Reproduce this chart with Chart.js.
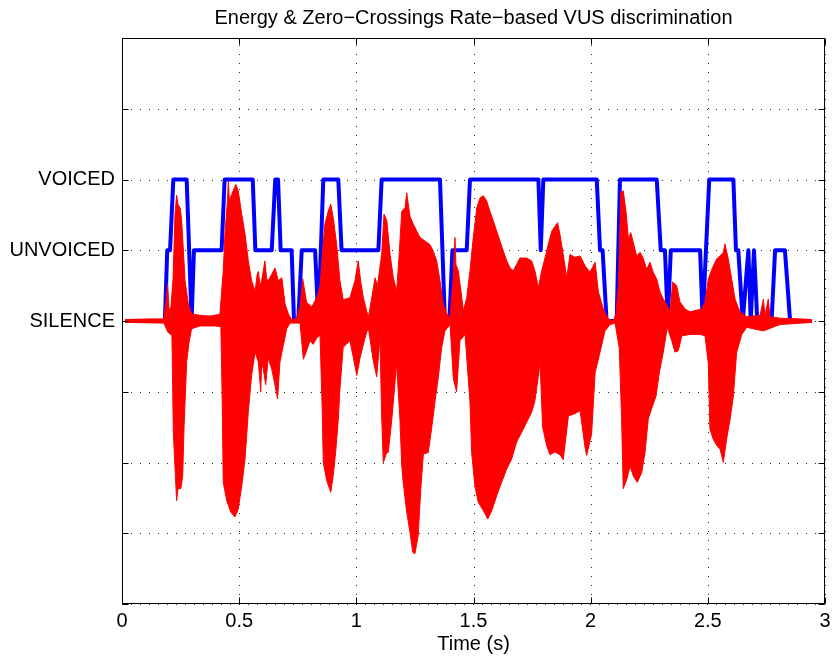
<!DOCTYPE html>
<html><head><meta charset="utf-8">
<style>html,body{margin:0;padding:0;background:#fff}#wrap{width:832px;height:656px}</style>
<script src="https://cdn.jsdelivr.net/npm/chart.js@4.4.0/dist/chart.umd.min.js"></script>
</head><body><div id="wrap"><canvas id="c" width="832" height="656"></canvas></div>
<script>
// Speech waveform envelope (upper): time (s) / amplitude
const upperT = [0.013,0.119,0.179,0.188,0.195,0.201,0.209,0.218,0.226,0.233,0.239,0.248,0.254,0.262,0.269,0.283,0.297,0.333,0.376,0.410,0.418,0.432,0.440,0.449,0.454,0.458,0.468,0.486,0.496,0.511,0.525,0.539,0.553,0.568,0.577,0.582,0.589,0.596,0.610,0.617,0.624,0.639,0.653,0.667,0.682,0.696,0.710,0.724,0.743,0.760,0.771,0.788,0.810,0.831,0.845,0.854,0.866,0.880,0.891,0.902,0.916,0.930,0.944,0.973,0.994,1.008,1.019,1.030,1.051,1.066,1.080,1.090,1.108,1.118,1.130,1.144,1.158,1.172,1.182,1.194,1.208,1.215,1.229,1.243,1.258,1.272,1.293,1.314,1.328,1.343,1.357,1.371,1.386,1.400,1.413,1.421,1.425,1.435,1.450,1.457,1.471,1.485,1.499,1.514,1.528,1.542,1.556,1.570,1.585,1.599,1.613,1.627,1.642,1.656,1.670,1.684,1.698,1.727,1.748,1.762,1.777,1.791,1.805,1.819,1.834,1.848,1.859,1.869,1.883,1.898,1.912,1.933,1.955,1.976,1.997,2.019,2.033,2.054,2.075,2.097,2.108,2.118,2.129,2.139,2.151,2.161,2.171,2.182,2.196,2.211,2.225,2.239,2.253,2.267,2.282,2.296,2.310,2.327,2.339,2.350,2.367,2.381,2.403,2.424,2.474,2.488,2.502,2.517,2.538,2.552,2.566,2.573,2.587,2.602,2.616,2.637,2.666,2.723,2.737,2.744,2.758,2.765,2.808,2.893,2.945];
const upperV = [0.02,0.03,0.03,0.3,0.52,0.15,0.2,0.6,1.5,1.78,1.65,1.6,1.45,1.0,0.57,0.24,0.1,0.08,0.07,0.09,0.1,0.71,1.27,1.65,1.98,1.7,1.79,1.93,1.84,1.51,1.23,0.85,0.57,0.42,0.66,0.7,0.5,0.57,0.85,0.6,0.57,0.66,0.75,0.57,0.61,0.24,0.1,0.02,0.03,0.2,0.6,0.26,0.2,0.33,0.5,0.9,1.37,1.55,1.65,1.45,1.08,0.57,0.3,0.33,0.57,0.85,0.55,0.33,0.05,0.33,0.61,0.5,0.94,1.51,1.42,0.94,0.61,0.42,0.9,1.55,1.6,1.81,1.48,1.37,1.27,1.18,1.13,1.08,0.99,0.85,0.57,0.24,0.1,0.05,0.6,1.18,0.8,0.71,0.33,0.14,0.33,0.71,1.18,1.6,1.74,1.77,1.7,1.55,1.41,1.27,1.13,0.99,0.85,0.75,0.71,0.8,0.89,0.89,0.85,0.71,0.47,0.71,0.89,1.08,1.27,1.34,1.39,1.22,0.94,0.61,0.94,0.9,0.92,0.78,0.69,0.83,0.41,0.17,0.03,0.0,0.1,0.5,1.82,1.84,1.54,1.16,1.25,1.11,0.92,0.97,0.88,0.73,0.83,0.69,0.59,0.41,0.31,0.22,0.13,0.55,0.5,0.27,0.17,0.13,0.17,0.27,0.59,0.73,0.88,0.92,0.97,1.09,0.88,0.59,0.31,0.13,0.06,0.08,0.31,0.08,0.31,0.06,0.04,0.03,0.02];
// Speech waveform envelope (lower)
const lowerT = [0.013,0.179,0.196,0.213,0.219,0.233,0.239,0.251,0.259,0.265,0.276,0.286,0.297,0.333,0.397,0.422,0.428,0.432,0.447,0.464,0.482,0.496,0.511,0.525,0.539,0.553,0.568,0.582,0.592,0.596,0.603,0.613,0.624,0.639,0.653,0.664,0.674,0.688,0.703,0.717,0.760,0.774,0.788,0.802,0.816,0.831,0.845,0.854,0.859,0.874,0.891,0.902,0.913,0.923,0.930,0.944,0.973,0.986,1.002,1.016,1.037,1.051,1.072,1.087,1.101,1.108,1.115,1.130,1.136,1.151,1.172,1.186,1.194,1.200,1.215,1.229,1.241,1.250,1.264,1.275,1.286,1.307,1.322,1.336,1.350,1.364,1.378,1.400,1.414,1.428,1.442,1.464,1.485,1.492,1.506,1.520,1.542,1.561,1.578,1.599,1.620,1.642,1.663,1.684,1.706,1.727,1.748,1.762,1.784,1.795,1.812,1.826,1.848,1.869,1.883,1.905,1.926,1.955,1.976,1.983,2.004,2.019,2.040,2.061,2.083,2.104,2.122,2.132,2.139,2.154,2.168,2.182,2.199,2.218,2.232,2.246,2.260,2.279,2.293,2.310,2.327,2.346,2.360,2.374,2.389,2.424,2.467,2.488,2.502,2.509,2.523,2.538,2.552,2.566,2.581,2.595,2.609,2.623,2.645,2.666,2.737,2.808,2.945];
const lowerV = [-0.02,-0.03,-0.16,-0.2,-1.57,-2.54,-2.37,-2.37,-2.19,-1.48,-0.58,-0.3,-0.11,-0.07,-0.07,-0.08,-1.2,-2.28,-2.54,-2.7,-2.77,-2.66,-2.33,-1.95,-1.29,-0.77,-0.44,-0.58,-1.0,-0.6,-0.68,-0.9,-0.53,-0.68,-0.91,-1.1,-0.58,-0.35,-0.11,-0.03,-0.03,-0.54,-0.42,-0.28,-0.33,-0.24,-0.2,-1.2,-2.0,-2.26,-2.42,-2.17,-1.81,-1.39,-0.96,-0.37,-0.28,-0.5,-0.77,-0.52,-0.24,-0.09,-0.56,-0.79,-0.24,-1.34,-2.0,-1.86,-1.86,-1.41,-0.6,-1.39,-2.05,-2.28,-2.7,-2.99,-3.27,-3.29,-3.03,-2.38,-1.88,-1.86,-1.5,-1.13,-0.79,-0.38,-0.14,-0.05,-0.82,-1.0,-0.28,-0.19,-1.15,-1.86,-2.33,-2.56,-2.68,-2.8,-2.68,-2.47,-2.28,-2.09,-1.95,-1.71,-1.57,-1.43,-1.29,-1.13,-0.6,-1.5,-1.76,-1.89,-1.85,-1.89,-1.96,-1.34,-1.32,-1.27,-1.79,-1.9,-1.6,-0.73,-0.44,-0.14,-0.05,-0.03,-0.38,-1.38,-2.37,-2.24,-2.05,-2.19,-2.28,-2.14,-1.86,-1.38,-1.24,-1.06,-0.73,-0.44,-0.09,-0.28,-0.44,-0.42,-0.21,-0.19,-0.19,-0.21,-0.6,-1.53,-1.67,-1.76,-1.81,-2.0,-1.65,-1.39,-1.06,-0.44,-0.19,-0.09,-0.14,-0.05,-0.02];
// V/U/S decision: 0 = silence, 1 = unvoiced, 2 = voiced
const stateT = [0.017,0.183,0.193,0.205,0.219,0.276,0.297,0.307,0.425,0.438,0.558,0.569,0.639,0.654,0.666,0.677,0.724,0.734,0.752,0.767,0.824,0.838,0.859,0.923,0.937,1.094,1.108,1.357,1.378,1.397,1.410,1.471,1.485,1.777,1.787,1.798,2.026,2.040,2.051,2.068,2.111,2.125,2.282,2.299,2.317,2.329,2.342,2.467,2.478,2.506,2.609,2.620,2.630,2.649,2.673,2.683,2.697,2.711,2.772,2.787,2.829,2.851,2.936];
const stateV = [0,0,1,1,2,2,0,1,1,2,2,1,1,2,2,1,1,0,0,1,1,0,2,2,1,1,2,2,0,0,1,1,2,2,1,2,2,1,1,0,0,2,2,1,1,0,1,1,0,2,2,1,1,0,1,0,1,0,0,1,1,0,0];
const yTickLabels = {0:'SILENCE', 1:'UNVOICED', 2:'VOICED'};
const titleText = 'Energy & Zero\u2212Crossings Rate\u2212based VUS discrimination';
const xTitle = 'Time (s)';

const FONT = "'Liberation Sans', Arial, Helvetica, sans-serif";
const toXY = (T, V) => T.map((t, i) => ({x: t, y: V[i]}));

const gridPlugin = {
  id: 'dotgrid',
  beforeDatasetsDraw(chart) {
    const {ctx, chartArea: a, scales} = chart;
    ctx.save();
    ctx.strokeStyle = 'rgba(0,0,0,0.85)';
    ctx.lineWidth = 1;
    ctx.setLineDash([1, 8]);
    ctx.beginPath();
    scales.x.ticks.forEach(tk => {
      const px = Math.round(scales.x.getPixelForValue(tk.value)) + 0.5;
      ctx.moveTo(px, a.bottom); ctx.lineTo(px, a.top);
    });
    scales.y.ticks.forEach(tk => {
      const py = Math.round(scales.y.getPixelForValue(tk.value)) + 0.5;
      ctx.moveTo(a.left, py); ctx.lineTo(a.right, py);
    });
    ctx.stroke();
    ctx.restore();
  }
};

const boxPlugin = {
  id: 'box',
  afterDraw(chart) {
    const {ctx, chartArea: a, scales} = chart;
    ctx.save();
    ctx.strokeStyle = '#000';
    ctx.lineWidth = 1;
    ctx.beginPath();
    const L = Math.round(a.left) + 0.5, R = Math.round(a.right) - 0.5;
    const T = Math.round(a.top) + 0.5, B = Math.round(a.bottom) - 0.5;
    ctx.rect(L, T, R - L, B - T);
    const len = 6;
    scales.x.ticks.forEach(tk => {
      const px = Math.round(scales.x.getPixelForValue(tk.value)) + 0.5;
      ctx.moveTo(px, B); ctx.lineTo(px, B - len);
      ctx.moveTo(px, T); ctx.lineTo(px, T + len);
    });
    scales.y.ticks.forEach(tk => {
      const py = Math.round(scales.y.getPixelForValue(tk.value)) + 0.5;
      ctx.moveTo(L, py); ctx.lineTo(L + len, py);
      ctx.moveTo(R, py); ctx.lineTo(R - len, py);
    });
    ctx.stroke();
    ctx.restore();
  }
};

new Chart(document.getElementById('c'), {
  type: 'line',
  data: {
    datasets: [
      {
        label: 'signal+', data: toXY(upperT, upperV),
        borderColor: 'rgb(255,0,0)', backgroundColor: 'rgb(255,0,0)',
        borderWidth: 1, pointRadius: 0, tension: 0, fill: 'origin', order: 0
      },
      {
        label: 'signal-', data: toXY(lowerT, lowerV),
        borderColor: 'rgb(255,0,0)', backgroundColor: 'rgb(255,0,0)',
        borderWidth: 1, pointRadius: 0, tension: 0, fill: 'origin', order: 0
      },
      {
        label: 'VUS', data: toXY(stateT, stateV),
        borderColor: 'rgb(0,0,255)', borderWidth: 4, pointRadius: 0, tension: 0,
        fill: false, borderJoinStyle: 'round', order: 1
      }
    ]
  },
  options: {
    responsive: false, animation: false, devicePixelRatio: 1,
    layout: {padding: {left: 0, right: 7, top: 0, bottom: 0}},
    plugins: {
      legend: {display: false}, tooltip: {enabled: false},
      title: {
        display: true, text: titleText, fullSize: false, color: '#000',
        font: {family: FONT, size: 20, weight: 'normal'},
        padding: {top: 6, bottom: 8}
      }
    },
    scales: {
      x: {
        type: 'linear', min: 0, max: 3,
        ticks: {stepSize: 0.5, color: '#000', padding: 5, maxRotation: 0,
          font: {family: FONT, size: 20}, callback: v => String(v)},
        grid: {display: false, drawTicks: false, tickLength: 0},
        border: {display: false},
        title: {display: true, text: xTitle, color: '#000', font: {family: FONT, size: 20}, padding: {top: 0, bottom: 0}},
        afterFit(s) { s.height = 52; s.paddingLeft = 0; s.paddingRight = 0; }
      },
      y: {
        type: 'linear', min: -4, max: 4,
        ticks: {stepSize: 1, color: '#000', padding: 7, autoSkip: false,
          font: {family: FONT, size: 20},
          callback: v => (yTickLabels[v] !== undefined ? yTickLabels[v] : '')},
        grid: {display: false, drawTicks: false, tickLength: 0},
        border: {display: false},
        afterFit(s) { s.width = 122; }
      }
    }
  },
  plugins: [gridPlugin, boxPlugin]
});
</script>
</body></html>
